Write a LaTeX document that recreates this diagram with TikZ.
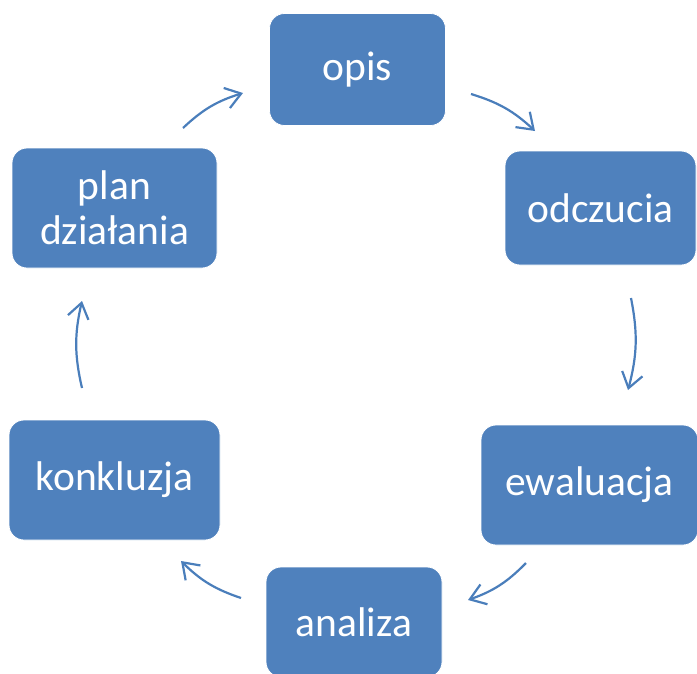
\documentclass[tikz,border=0pt]{standalone}
\usepackage{fontspec}
\setmainfont{Carlito}
\usetikzlibrary{arrows.meta}
\definecolor{boxblue}{RGB}{79,129,189}
\definecolor{arrowblue}{RGB}{74,126,187}
\begin{document}
\begin{tikzpicture}[x=1pt,y=-1pt,
  stage/.style={fill=boxblue, draw=white, line width=0.8pt, rounded corners=15pt,
    inner sep=0pt, text=white, align=center,
    font=\fontsize{41.5}{45}\selectfont},
  cyclearrow/.style={draw=arrowblue, line width=2.2pt,
    -{Straight Barb[length=15pt,width=21pt,line width=2.2pt]}, bend left=13}]
  \useasboundingbox (0,0) rectangle (697,673);

  % stages of the cycle
  \node[stage, minimum width=176pt, minimum height=112pt] (opis) at (357.5,69.5) {opis};
  \node[stage, minimum width=191pt, minimum height=114pt] (odczucia) at (600.5,208) {odczucia};
  \node[stage, minimum width=217pt, minimum height=120pt] (ewaluacja) at (589.5,485) {ewaluacja};
  \node[stage, minimum width=176pt, minimum height=110pt] (analiza) at (354,622) {analiza};
  \node[stage, minimum width=211pt, minimum height=120pt] (konkluzja) at (114.5,480) {konkluzja};
  \node[stage, minimum width=205pt, minimum height=120pt] (plan) at (114.5,208) {plan\\działania};

  % arrow end points
  \coordinate (a1s) at (183,128);  \coordinate (a1e) at (243,93);
  \coordinate (a2s) at (471,94);   \coordinate (a2e) at (535,131);
  \coordinate (a3s) at (631,298);  \coordinate (a3e) at (628,390);
  \coordinate (a4s) at (526,563);  \coordinate (a4e) at (468,600);
  \coordinate (a5s) at (241,598);  \coordinate (a5e) at (181,561);
  \coordinate (a6s) at (82,388);   \coordinate (a6e) at (82,301);

  % clockwise connectors
  \draw[cyclearrow] (a1s) to (a1e);
  \draw[cyclearrow] (a2s) to (a2e);
  \draw[cyclearrow] (a3s) to (a3e);
  \draw[cyclearrow] (a4s) to (a4e);
  \draw[cyclearrow] (a5s) to (a5e);
  \draw[cyclearrow] (a6s) to (a6e);
\end{tikzpicture}
\end{document}
